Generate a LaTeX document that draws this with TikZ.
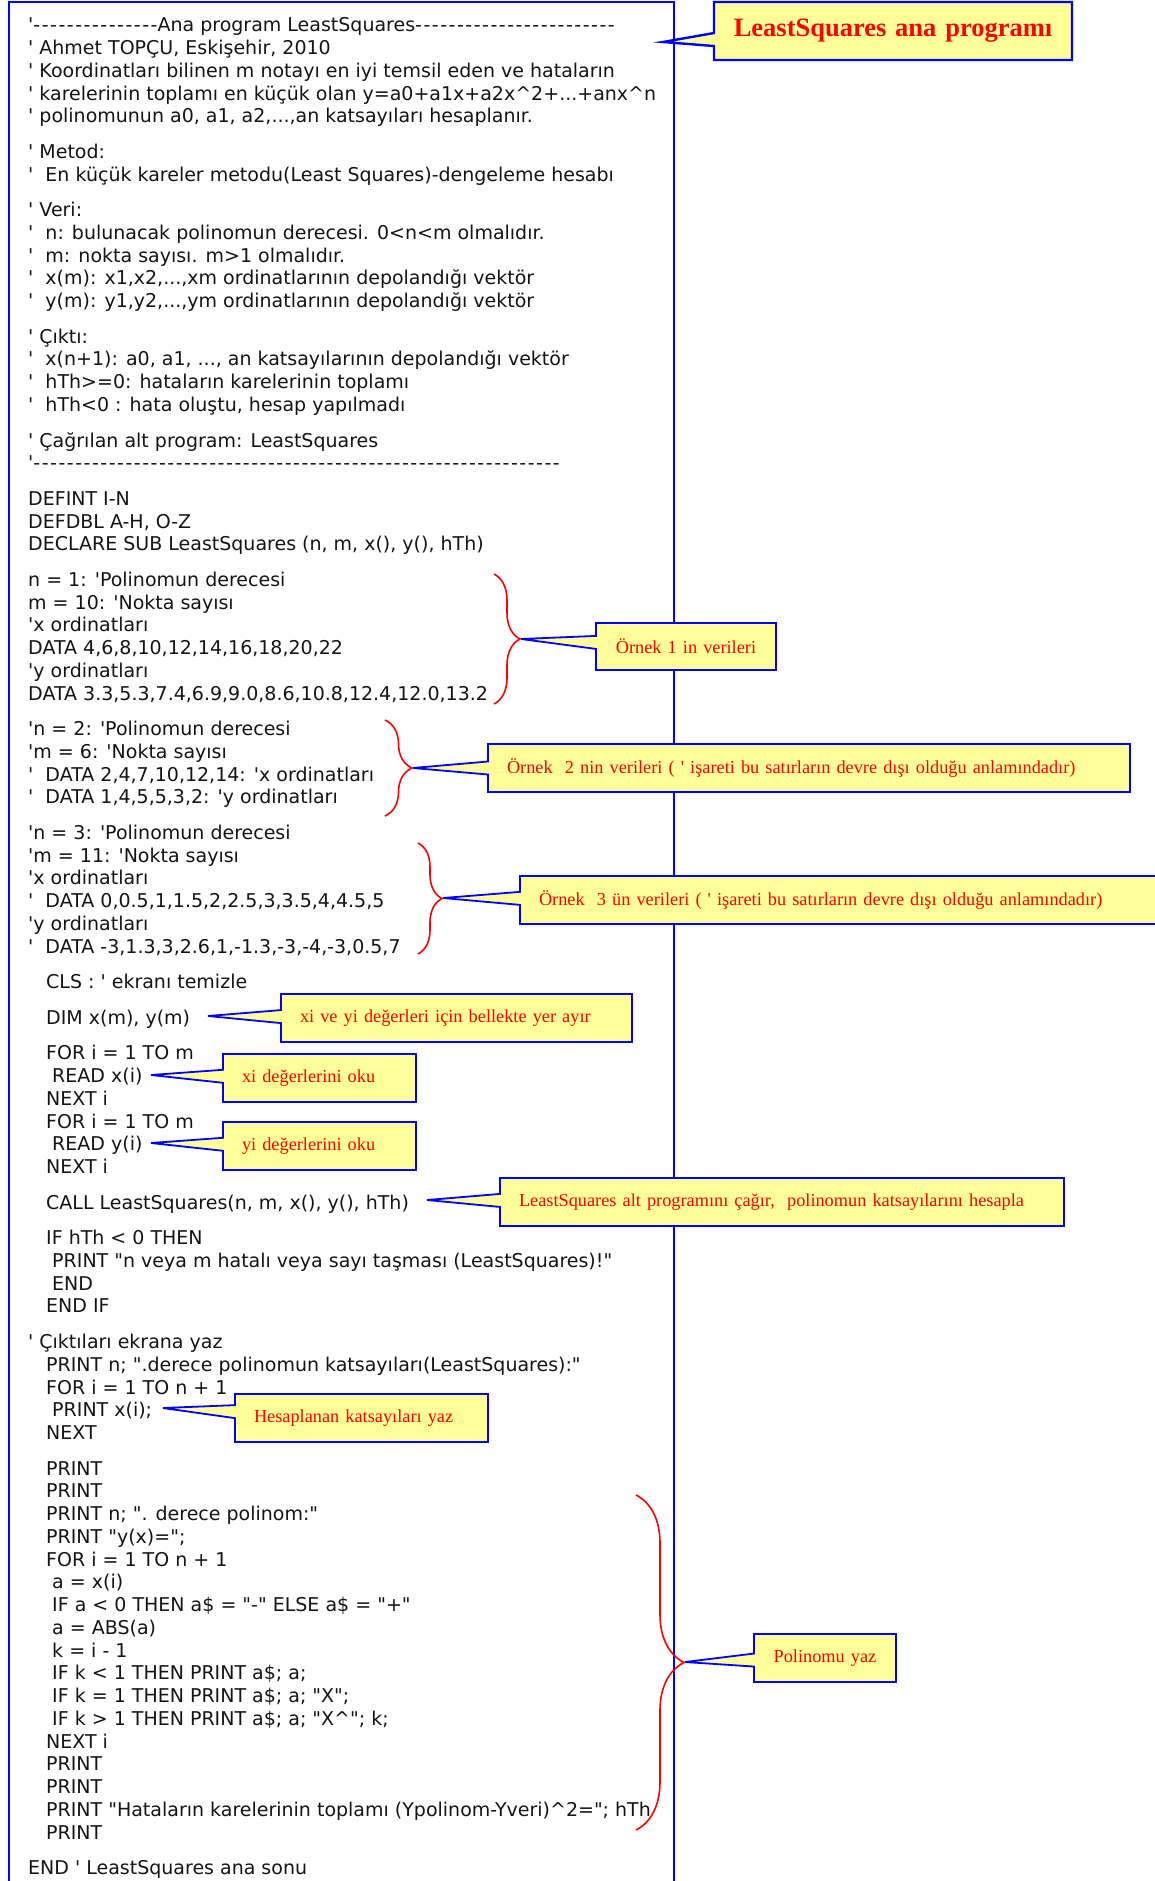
\documentclass[tikz,border=0pt]{standalone}
\usepackage{fontspec}
\newfontfamily\codefont{DejaVu Sans}
\newfontfamily\dashfont{DejaVu Sans}[LetterSpace=8]
\newfontfamily\notefont{Liberation Serif}
\usetikzlibrary{shapes.callouts,decorations.pathreplacing}
\definecolor{Blue}{HTML}{0000FF}
\definecolor{Red}{HTML}{FF0000}
\definecolor{Note}{HTML}{FFFF99}
\definecolor{Ink}{HTML}{141414}
\newcommand{\codetab}{\hspace*{18pt}}

\begin{document}
\begin{tikzpicture}[x=1pt,y=-1pt,
    code/.style={anchor=north west,inner sep=0pt,align=left,text=Ink,
      font=\codefont\fontsize{19}{22.75}\selectfont},
    note/.style={rectangle callout,draw=Blue,fill=Note,line width=1.8pt,
      callout pointer width=13pt,inner xsep=19pt,inner ysep=0pt,outer sep=0pt,
      minimum height=48pt,anchor=north west,align=left,text=Red,
      font=\notefont\fontsize{18.3}{22}\selectfont},
    redbrace/.style={decorate,decoration={brace,amplitude=#1},draw=Red,line width=1.6pt}
  ]
  \useasboundingbox (0,0) rectangle (1155,1881);
  \clip (0,0) rectangle (1155,1881);
  % listing frame
  \draw[Blue,line width=1.5pt] (9,2) rectangle (674,1900);
  \node[code] (listing) at (28,17.5) {%
'{\dashfont ---------------}Ana program LeastSquares{\dashfont ------------------------}\\
' Ahmet TOPÇU, Eskişehir, 2010\\
' Koordinatları bilinen m notayı en iyi temsil eden ve hataların\\
' karelerinin toplamı en küçük olan y=a0+a1x+a2x\textasciicircum{}2+...+anx\textasciicircum{}n\\
' polinomunun a0, a1, a2,...,an katsayıları hesaplanır.\\[12.8pt]
' Metod:\\
' ~En küçük kareler metodu(Least Squares)-dengeleme hesabı\\[12.8pt]
' Veri:\\
' ~n: bulunacak polinomun derecesi. 0<n<m olmalıdır.\\
' ~m: nokta sayısı. m>1 olmalıdır.\\
' ~x(m): x1,x2,...,xm ordinatlarının depolandığı vektör\\
' ~y(m): y1,y2,...,ym ordinatlarının depolandığı vektör\\[12.8pt]
' Çıktı:\\
' ~x(n+1): a0, a1, ..., an katsayılarının depolandığı vektör\\
' ~hTh>=0: hataların karelerinin toplamı\\
' ~hTh<0 : hata oluştu, hesap yapılmadı\\[12.8pt]
' Çağrılan alt program: LeastSquares\\
'{\dashfont ---------------------------------------------------------------}\\[12.8pt]
DEFINT I-N\\
DEFDBL A-H, O-Z\\
DECLARE SUB LeastSquares (n, m, x(), y(), hTh)\\[12.8pt]
n = 1: 'Polinomun derecesi\\
m = 10: 'Nokta sayısı\\
'x ordinatları\\
DATA 4,6,8,10,12,14,16,18,20,22\\
'y ordinatları\\
DATA 3.3,5.3,7.4,6.9,9.0,8.6,10.8,12.4,12.0,13.2\\[12.8pt]
'n = 2: 'Polinomun derecesi\\
'm = 6: 'Nokta sayısı\\
' ~DATA 2,4,7,10,12,14: 'x ordinatları\\
' ~DATA 1,4,5,5,3,2: 'y ordinatları\\[12.8pt]
'n = 3: 'Polinomun derecesi\\
'm = 11: 'Nokta sayısı\\
'x ordinatları\\
' ~DATA 0,0.5,1,1.5,2,2.5,3,3.5,4,4.5,5\\
'y ordinatları\\
' ~DATA -3,1.3,3,2.6,1,-1.3,-3,-4,-3,0.5,7\\[12.8pt]
\codetab CLS : ' ekranı temizle\\[12.8pt]
\codetab DIM x(m), y(m)\\[12.8pt]
\codetab FOR i = 1 TO m\\
\codetab~READ x(i)\\
\codetab NEXT i\\
\codetab FOR i = 1 TO m\\
\codetab~READ y(i)\\
\codetab NEXT i\\[12.8pt]
\codetab CALL LeastSquares(n, m, x(), y(), hTh)\\[12.8pt]
\codetab IF hTh < 0 THEN\\
\codetab~PRINT "n veya m hatalı veya sayı taşması (LeastSquares)!"\\
\codetab~END\\
\codetab END IF\\[12.8pt]
' Çıktıları ekrana yaz\\
\codetab PRINT n; ".derece polinomun katsayıları(LeastSquares):"\\
\codetab FOR i = 1 TO n + 1\\
\codetab~PRINT x(i);\\
\codetab NEXT\\[12.8pt]
\codetab PRINT\\
\codetab PRINT\\
\codetab PRINT n; ". derece polinom:"\\
\codetab PRINT "y(x)=";\\
\codetab FOR i = 1 TO n + 1\\
\codetab~a = x(i)\\
\codetab~IF a < 0 THEN a\$ = "-" ELSE a\$ = "+"\\
\codetab~a = ABS(a)\\
\codetab~k = i - 1\\
\codetab~IF k < 1 THEN PRINT a\$; a;\\
\codetab~IF k = 1 THEN PRINT a\$; a; "X";\\
\codetab~IF k > 1 THEN PRINT a\$; a; "X\textasciicircum{}"; k;\\
\codetab NEXT i\\
\codetab PRINT\\
\codetab PRINT\\
\codetab PRINT "Hataların karelerinin toplamı (Ypolinom-Yveri)\textasciicircum{}2="; hTh\\
\codetab PRINT\\[12.8pt]
END ' LeastSquares ana sonu};

  % braces round the data blocks
  \coordinate (ex1top) at (494,574);
  \coordinate (ex1bot) at (494,704);
  \coordinate (ex1tip) at (521,639);
  \coordinate (ex2top) at (385,720);
  \coordinate (ex2bot) at (385,816);
  \coordinate (ex2tip) at (413,768);
  \coordinate (ex3top) at (418,843);
  \coordinate (ex3bot) at (418,954);
  \coordinate (ex3tip) at (443,898);
  \coordinate (polytop) at (636,1495);
  \coordinate (polybot) at (636,1830);
  \coordinate (polytip) at (685,1662);
  % pointer ends beside the code
  \coordinate (titletip) at (663,42);
  \coordinate (dimtip) at (208,1016);
  \coordinate (readxtip) at (151,1075);
  \coordinate (readytip) at (151,1143);
  \coordinate (calltip) at (427,1200);
  \coordinate (printtip) at (163,1408);

  % callouts
  \node[note,text width=320pt,align=center,line width=2.4pt,minimum height=58pt,
    font=\notefont\bfseries\fontsize{26.5}{30}\selectfont,
    callout absolute pointer={(titletip)}] (title) at (714,2) {LeastSquares ana programı};
  \node[note,inner xsep=10pt,text width=160pt,align=center,minimum height=47pt,
    callout absolute pointer={(ex1tip)}] (ex1) at (596,623) {Örnek 1 in verileri};
  \node[note,text width=604pt,callout absolute pointer={(ex2tip)}] (ex2) at (488,744)
    {Örnek~ 2 nin verileri ( ' işareti bu satırların devre dışı olduğu anlamındadır)};
  \node[note,text width=622pt,callout absolute pointer={(ex3tip)}] (ex3) at (520,876)
    {Örnek~ 3 ün verileri ( ' işareti bu satırların devre dışı olduğu anlamındadır)};
  \node[note,text width=313pt,callout absolute pointer={(dimtip)}] (dim) at (281,994)
    {xi ve yi değerleri için bellekte yer ayır};
  \node[note,text width=155pt,callout absolute pointer={(readxtip)}] (readx) at (223,1054)
    {xi değerlerini oku};
  \node[note,text width=155pt,callout absolute pointer={(readytip)}] (ready) at (223,1122)
    {yi değerlerini oku};
  \node[note,text width=526pt,callout absolute pointer={(calltip)}] (call) at (500,1178)
    {LeastSquares alt programını çağır,~ polinomun katsayılarını hesapla};
  \node[note,text width=215pt,callout absolute pointer={(printtip)}] (print) at (235,1394)
    {Hesaplanan katsayıları yaz};
  \node[note,inner xsep=10pt,text width=122pt,align=center,
    callout absolute pointer={(polytip)}] (poly) at (754,1634) {Polinomu yaz};

  \draw[redbrace=26] (ex1top) -- (ex1bot);
  \draw[redbrace=27] (ex2top) -- (ex2bot);
  \draw[redbrace=24] (ex3top) -- (ex3bot);
  \draw[redbrace=48] (polytop) -- (polybot);
\end{tikzpicture}
\end{document}
